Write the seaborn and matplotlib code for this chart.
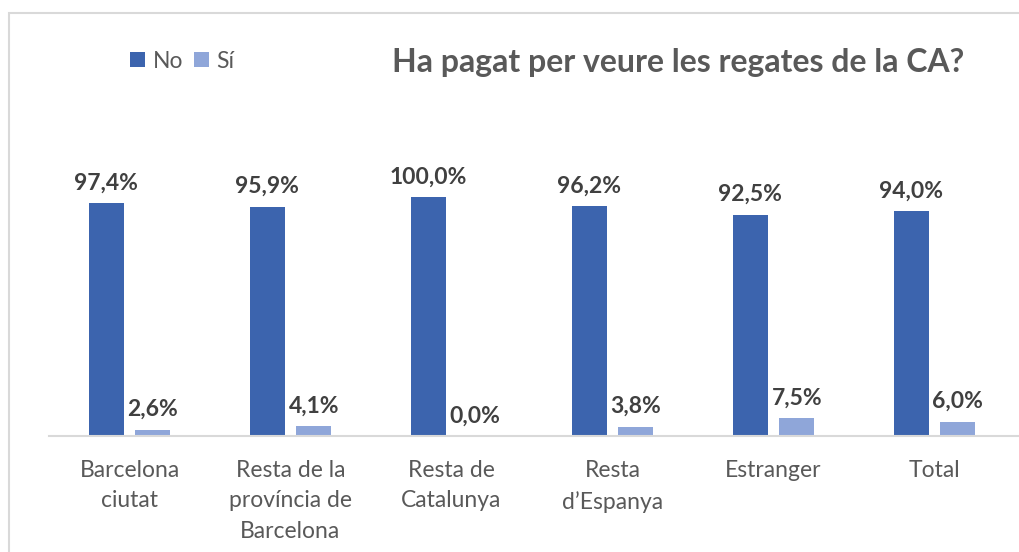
import pandas as pd
import matplotlib.pyplot as plt
import matplotlib.patches as patches
import seaborn as sns

# =====================================
# Data
# =====================================
CATEGORIES = [
    "Barcelona\nciutat",
    "Resta de la\nprovíncia de\nBarcelona",
    "Resta de\nCatalunya",
    "Resta\nd\u2019Espanya",
    "Estranger",
    "Total",
]
NO_VALUES = [97.4, 95.9, 100.0, 96.2, 92.5, 94.0]
SI_VALUES = [2.6, 4.1, 0.0, 3.8, 7.5, 6.0]
SERIES = ["No", "Sí"]
COLORS = ["#3C64AE", "#8FA6D9"]
TITLE = "Ha pagat per veure les regates de la CA?"

W, H = 1019, 552


def build_frame():
    rows = []
    for cat, no, si in zip(CATEGORIES, NO_VALUES, SI_VALUES):
        rows.append({"cat": cat, "resp": SERIES[0], "value": no})
        rows.append({"cat": cat, "resp": SERIES[1], "value": si})
    return pd.DataFrame(rows)


def fmt(v):
    return f"{v:.1f}%".replace(".", ",")


def main():
    sns.set_style("white")
    plt.rcParams["font.family"] = ["Lato", "DejaVu Sans"]

    df = build_frame()
    fig = plt.figure(figsize=(W / 100, H / 100), dpi=100)

    # axes placed so baseline sits at y=436px and 100% at y=197px
    ymax = 1.25
    base = 436
    top100 = 197
    ax_h = (base - top100) * ymax / H
    ax = fig.add_axes([49 / W, 1 - base / H, (W - 49) / W, ax_h])

    sns.barplot(
        data=df, x="cat", y="value", hue="resp",
        palette=COLORS, width=0.58, gap=0.25,
        order=CATEGORIES, hue_order=SERIES, ax=ax,
        saturation=1, edgecolor="none",
    )
    ax.set_ylim(0, 100 * ymax)
    ax.set_xlim(-0.5, len(CATEGORIES) - 0.5 + (W - 49 - 966) / 161)

    for cont, vals in zip(ax.containers, [NO_VALUES, SI_VALUES]):
        ax.bar_label(cont, labels=[fmt(v) for v in vals], padding=7,
                     fontsize=16.5, fontweight="bold", color="#404040")

    ax.set_xlabel("")
    ax.set_ylabel("")
    ax.set_yticks([])
    ax.tick_params(axis="x", length=0, pad=17, labelsize=16.5, labelcolor="#595959")
    for lbl in ax.get_xticklabels():
        lbl.set_linespacing(1.57)
        lbl.set_verticalalignment("top")
    sns.despine(ax=ax, left=True)
    ax.spines["bottom"].set_color("#D9D9D9")
    ax.spines["bottom"].set_linewidth(1.5)

    handles, labels = ax.get_legend_handles_labels()
    ax.legend(handles, labels, loc="center left",
              bbox_to_anchor=(130 / W, 1 - 61 / H), bbox_transform=fig.transFigure,
              ncol=2, frameon=False, handlelength=0.65, handleheight=0.65,
              handletextpad=0.35, columnspacing=0.45, borderpad=0, borderaxespad=0,
              prop={"size": 16.5}, labelcolor="#595959")

    fig.text(392 / W, 1 - 62 / H, TITLE, ha="left", va="center",
             fontsize=23, fontweight="bold", color="#595959")

    # chart frame (right and bottom edges fall outside the image)
    frame = patches.Rectangle((9 / W, -0.1), 1.2, (H - 13) / H + 0.1,
                              transform=fig.transFigure, fill=False,
                              edgecolor="#D9D9D9", linewidth=1.5)
    fig.patches.append(frame)

    fig.savefig("out.png", dpi=100)
    plt.close(fig)


if __name__ == "__main__":
    main()
